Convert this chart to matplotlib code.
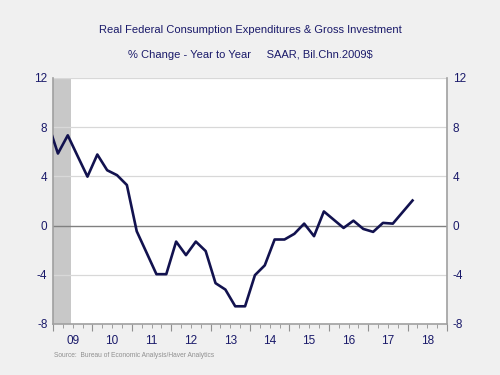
import numpy as np
import matplotlib
matplotlib.use("Agg")
import matplotlib.pyplot as plt
from matplotlib.ticker import MultipleLocator

plt.rcParams['font.family'] = ['Liberation Sans', 'DejaVu Sans']

# Quarterly % change yr/yr, 2008Q4 .. 2018Q1
start_year = 2008.75
values = [8.3,
          5.86, 7.34, 5.65, 3.98,
          5.78, 4.5, 4.1, 3.3,
          -0.46, -2.2, -3.95, -3.95,
          -1.3, -2.4, -1.3, -2.07,
          -4.68, -5.2, -6.56, -6.56,
          -4.03, -3.23, -1.13, -1.13,
          -0.67, 0.16, -0.86, 1.15,
          0.48, -0.19, 0.4, -0.27,
          -0.51, 0.22, 0.16, 1.1,
          2.04]
recession = (2009.0, 2009.45)
year_labels = ['09', '10', '11', '12', '13', '14', '15', '16', '17', '18']
yticks = [-8, -4, 0, 4, 8, 12]

navy = '#1a1a6a'
bg = '#f0f0f0'

quarters = start_year + 0.125 + 0.25 * np.arange(len(values))

fig = plt.figure(figsize=(5, 3.75), dpi=100, facecolor=bg)
ax = fig.add_axes([0.106, 0.136, 0.788, 0.656])
ax.set_facecolor('white')

ax.axvspan(*recession, color='#c8c8c8', lw=0, zorder=1)
for y in yticks:
    if y == 0:
        ax.axhline(y, color='#808080', lw=1.0, zorder=2)
    else:
        ax.axhline(y, color='#d8d8d8', lw=0.9, zorder=2)

ax.plot(quarters, values, color='#12124f', lw=1.9, zorder=3)

ax.set_xlim(2009, 2019)
ax.set_ylim(-8, 12)

# year ticks long, quarter ticks short; labels sit mid-year
ax.xaxis.set_major_locator(MultipleLocator(1))
ax.xaxis.set_minor_locator(MultipleLocator(0.25))
ax.set_xticklabels([])
for i, lab in enumerate(year_labels):
    ax.text(2009.5 + i, -8.9, lab, ha='center', va='top', fontsize=8.5, color=navy)
ax.tick_params(axis='x', which='major', length=5, color='#909090', direction='out')
ax.tick_params(axis='x', which='minor', length=3, color='#909090', direction='out')

ax.set_yticks(yticks)
ax.set_yticklabels([str(v) for v in yticks])
ax.tick_params(axis='y', length=0, labelsize=8.5, labelcolor=navy, pad=4,
               labelright=True, right=False)

for side in ['left', 'right', 'bottom']:
    ax.spines[side].set_color('#a0a0a0')
    ax.spines[side].set_linewidth(1.2)
ax.spines['top'].set_visible(False)

fig.text(0.5, 0.92, 'Real Federal Consumption Expenditures & Gross Investment',
         ha='center', va='center', fontsize=8, color=navy)
fig.text(0.5, 0.853, '% Change - Year to Year     SAAR, Bil.Chn.2009$',
         ha='center', va='center', fontsize=8, color=navy)
fig.text(0.108, 0.052, 'Source:  Bureau of Economic Analysis/Haver Analytics',
         ha='left', va='center', fontsize=4.8, color='#909090')

fig.savefig('out.png', dpi=100, facecolor=bg)
